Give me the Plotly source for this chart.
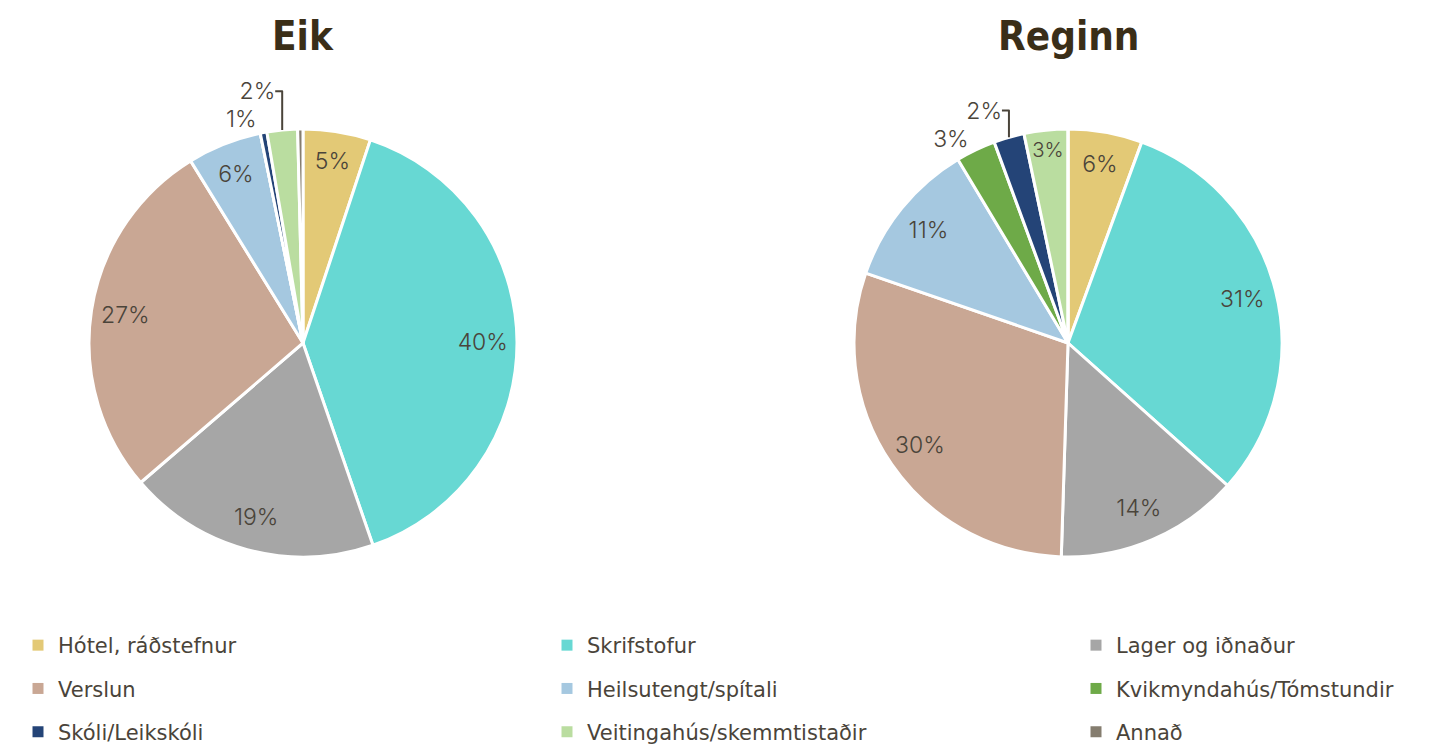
import plotly.graph_objects as go

# flokkar (sama röð og í skýringunni)
categories = ["Hótel, ráðstefnur", "Skrifstofur", "Lager og iðnaður",
              "Verslun", "Heilsutengt/spítali", "Kvikmyndahús/Tómstundir",
              "Skóli/Leikskóli", "Veitingahús/skemmtistaðir", "Annað"]
colors = ["#E3C976", "#67D8D3", "#A6A6A6", "#C9A794", "#A5C8E0",
          "#6EAA48", "#244477", "#BADDA0", "#857D6F"]

eik_values = [5.1, 39.6, 19.0, 27.5, 5.6, 0.0, 0.5, 2.3, 0.4]
eik_inside = ["5%", "40%", "19%", "27%", "6%", "", "", "", ""]
eik_outside = ["", "", "", "", "", "", "1%", "2%", ""]

reginn_values = [5.6, 31.0, 13.9, 29.8, 11.1, 3.0, 2.3, 3.3, 0.0]
reginn_inside = ["6%", "31%", "14%", "30%", "11%", "", "", "3%", ""]
reginn_outside = ["", "", "", "", "", "3%", "2%", "", ""]

titles = ["Eik", "Reginn"]

W, H = 1442, 744
OFF = 8  # síðan bætir 8px spássíu ofan og vinstra megin
txt_col = "#4A443A"
lbl_font = dict(family="Inter, Liberation Sans, sans-serif", size=23,
                color=txt_col, weight=300)


def px_x(x):
    return (x - OFF) / W


def px_y(y):
    return 1 - (y - OFF) / H


def dom(cx, cy, half):
    return dict(x=[px_x(cx - half), px_x(cx + half)],
                y=[px_y(cy + half), px_y(cy - half)])


fig = go.Figure()

for vals, t_in, t_out, cx in [(eik_values, eik_inside, eik_outside, 303),
                              (reginn_values, reginn_inside, reginn_outside, 1068)]:
    d = dom(cx, 343, 214)
    # heil kaka með litum og ytri merkjum
    fig.add_trace(go.Pie(
        labels=categories, values=vals, text=t_out, textinfo="text",
        textposition=["outside" if s else "none" for s in t_out],
        sort=False, direction="clockwise", rotation=0,
        marker=dict(colors=colors, line=dict(color="white", width=3)),
        outsidetextfont=lbl_font, domain=d, showlegend=False,
        hoverinfo="label+percent",
    ))
    # gegnsær hringur sem ber innri merkin nær jaðrinum
    fig.add_trace(go.Pie(
        labels=categories, values=vals, text=t_in, textinfo="text",
        textposition=["inside" if s else "none" for s in t_in],
        sort=False, direction="clockwise", rotation=0, hole=0.68,
        marker=dict(colors=["rgba(0,0,0,0)"] * len(categories),
                    line=dict(width=0)),
        insidetextorientation="horizontal", insidetextfont=lbl_font,
        domain=d, showlegend=False, hoverinfo="skip",
    ))

# skýringar: einn dálkur í hverri skýringu, bil milli lína með tracegroupgap
legend_cols = ["legend", "legend2", "legend3"]
for i, (name, c) in enumerate(zip(categories, colors)):
    fig.add_trace(go.Scatter(
        x=[None], y=[None], mode="markers", name=name,
        marker=dict(symbol="square", size=11, color=c),
        legend=legend_cols[i % 3], legendgroup=name, hoverinfo="skip",
    ))

leg_font = dict(family="DejaVu Sans, sans-serif", size=21, color=txt_col)
leg_common = dict(orientation="v", y=px_y(625), yanchor="top", xanchor="left",
                  tracegroupgap=13, font=leg_font, bgcolor="rgba(0,0,0,0)",
                  itemclick=False, itemdoubleclick=False)

for cx, t in zip([303, 1068], titles):
    fig.add_annotation(x=px_x(cx), y=px_y(36), xref="paper", yref="paper",
                       xanchor="center", yanchor="middle",
                       text="<b>" + t + "</b>", showarrow=False,
                       font=dict(family="DejaVu Sans Condensed, DejaVu Sans, sans-serif",
                                 size=40, color="#3A2E18"))

fig.update_layout(
    width=W, height=H, margin=dict(l=0, r=0, t=0, b=0, autoexpand=False),
    paper_bgcolor="white", plot_bgcolor="white",
    xaxis=dict(visible=False), yaxis=dict(visible=False),
    legend=dict(x=px_x(18), **leg_common),
    legend2=dict(x=px_x(547), **leg_common),
    legend3=dict(x=px_x(1076), **leg_common),
)

fig.write_html("out.html")
